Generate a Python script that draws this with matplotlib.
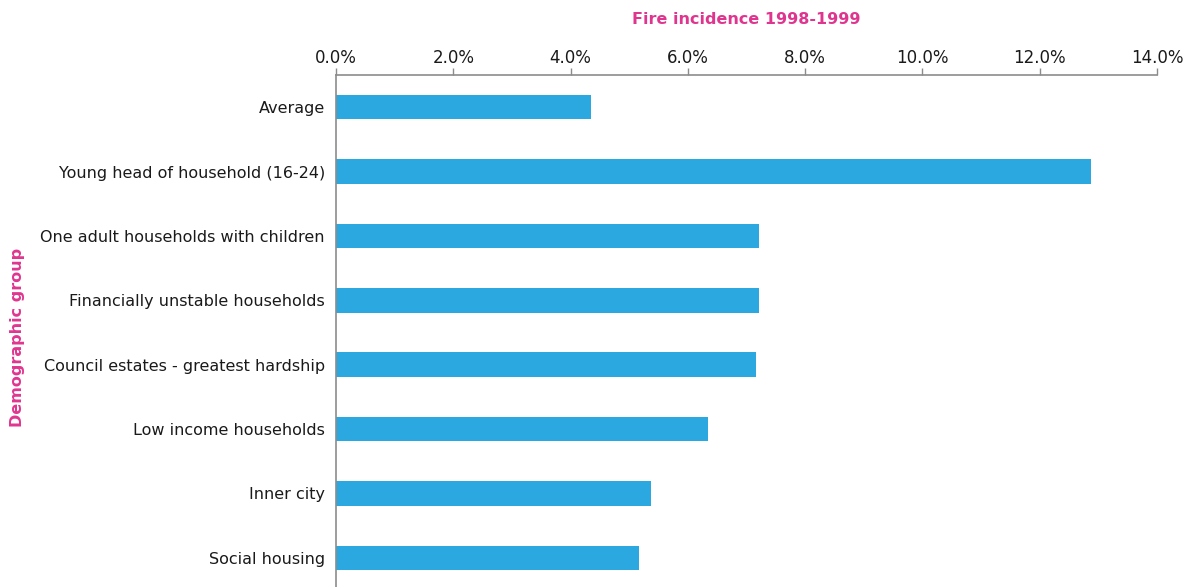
import matplotlib
matplotlib.use("Agg")
import matplotlib.pyplot as plt
from matplotlib.ticker import FuncFormatter, MultipleLocator

categories = [
    "Average",
    "Young head of household (16-24)",
    "One adult households with children",
    "Financially unstable households",
    "Council estates - greatest hardship",
    "Low income households",
    "Inner city",
    "Social housing",
]
values = [4.35, 12.88, 7.22, 7.22, 7.16, 6.34, 5.37, 5.17]

bar_color = "#2ba8df"
accent = "#e0358f"
axis_color = "#8c8c8c"

plt.rcParams["font.family"] = ["DejaVu Sans"]

W, H = 1194, 587
fig = plt.figure(figsize=(W / 100, H / 100), dpi=100)
left, right, top, bottom = 336, 1157, 75, 587
ax = fig.add_axes([left / W, 1 - bottom / H, (right - left) / W, (bottom - top) / H])

y = list(range(len(categories)))
ax.barh(y, values, height=0.38, color=bar_color)

ax.set_xlim(0, 14)
ax.set_ylim(7.5 - 3 / 64.3, -0.5)
ax.xaxis.set_major_locator(MultipleLocator(2))
ax.xaxis.set_major_formatter(FuncFormatter(lambda v, p: f"{v:.1f}%"))
ax.xaxis.tick_top()
ax.xaxis.set_label_position("top")
ax.tick_params(axis="x", direction="out", length=5, width=1, color=axis_color,
               labelsize=12, pad=1, labelcolor="#1a1a1a")
ax.set_yticks(y)
ax.set_yticklabels(categories)
ax.tick_params(axis="y", length=0, labelsize=11.5, pad=8, labelcolor="#1a1a1a")

for s in ["right", "bottom"]:
    ax.spines[s].set_visible(False)
for s in ["top", "left"]:
    ax.spines[s].set_color(axis_color)
    ax.spines[s].set_linewidth(1.2)

ax.set_xlabel("Fire incidence 1998-1999", color=accent, fontweight="bold",
              fontsize=11.5, labelpad=18)
fig.text(18 / W, 1 - 337 / H, "Demographic group", color=accent, fontweight="bold",
         fontsize=11.5, rotation=90, ha="center", va="center")

fig.savefig("out.png", dpi=100)
